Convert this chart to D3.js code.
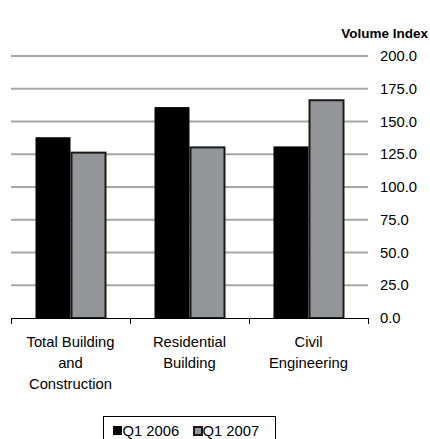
<!DOCTYPE html>
<html>
<head>
<meta charset="utf-8">
<script src="https://cdn.jsdelivr.net/npm/d3@7"></script>
<style>
  body { margin: 0; background: #fff; }
  text { font-family: "Liberation Sans", Arial, sans-serif; }
</style>
</head>
<body>
<svg width="430" height="439"></svg>
<script>
var categories = [["Total Building", "and", "Construction"], ["Residential", "Building"], ["Civil", "Engineering"]];
var seriesNames = ["Q1 2006", "Q1 2007"];
var q12006 = [138, 161, 131];
var q12007 = [127, 131, 167];
var yTicks = [0, 25, 50, 75, 100, 125, 150, 175, 200];

var svg = d3.select("svg");
var plotLeft = 11, plotRight = 368, plotTop = 56, plotBottom = 318;

var x = d3.scaleBand()
    .domain(d3.range(categories.length))
    .range([plotLeft, plotRight]);

var inner = d3.scaleBand()
    .domain([0, 1])
    .range([0, x.bandwidth()])
    .paddingOuter(0.7);

var y = d3.scaleLinear()
    .domain([0, 200])
    .range([plotBottom, plotTop]);

// grid lines
svg.append("g")
  .selectAll("line")
  .data(yTicks.filter(function(d){ return d > 0 }))
  .enter().append("line")
    .attr("x1", plotLeft)
    .attr("x2", plotRight)
    .attr("y1", function(d){ return y(d) })
    .attr("y2", function(d){ return y(d) })
    .attr("stroke", "#a6a6a6")
    .attr("stroke-width", 2)

// y labels on the right
svg.append("g")
  .selectAll("text")
  .data(yTicks)
  .enter().append("text")
    .attr("x", 380)
    .attr("y", function(d){ return y(d) })
    .attr("dy", "0.35em")
    .attr("font-size", 14.8)
    .attr("fill", "#000")
    .text(function(d){ return d3.format(".1f")(d) })

svg.append("text")
    .attr("x", 428)
    .attr("y", 38)
    .attr("text-anchor", "end")
    .attr("font-size", 13.5)
    .attr("font-weight", "bold")
    .text("Volume Index")

var series = [q12006, q12007];
var fills = ["#000000", "#939598"];

series.forEach(function(vals, s) {
  svg.append("g")
    .selectAll("rect")
    .data(vals)
    .enter().append("rect")
      .attr("x", function(d, i){ return x(i) + inner(s) + (s ? 1 : 0) })
      .attr("y", function(d){ return y(d) + (s ? 1 : 0) })
      .attr("width", inner.bandwidth() - (s ? 1 : 0))
      .attr("height", function(d){ return plotBottom - y(d) - (s ? 1 : 0) })
      .attr("fill", fills[s])
      .attr("stroke", s ? "#1a1a1a" : "none")
      .attr("stroke-width", 2)
});

// category axis
svg.append("line")
    .attr("x1", plotLeft).attr("x2", plotRight)
    .attr("y1", plotBottom + 0.5).attr("y2", plotBottom + 0.5)
    .attr("stroke", "#000").attr("stroke-width", 1)

svg.append("g")
  .selectAll("line")
  .data(d3.range(categories.length + 1))
  .enter().append("line")
    .attr("x1", function(d){ return Math.round(plotLeft + d * x.step()) + 0.5 })
    .attr("x2", function(d){ return Math.round(plotLeft + d * x.step()) + 0.5 })
    .attr("y1", plotBottom)
    .attr("y2", plotBottom + 6)
    .attr("stroke", "#000")

var labels = svg.append("g")
  .selectAll("text")
  .data(categories)
  .enter().append("text")
    .attr("x", function(d, i){ return x(i) + x.bandwidth() / 2 })
    .attr("y", 347)
    .attr("text-anchor", "middle")
    .attr("font-size", 14.8)

labels.selectAll("tspan")
  .data(function(d){ return d })
  .enter().append("tspan")
    .attr("x", function(){ return d3.select(this.parentNode).attr("x") })
    .attr("dy", function(d, i){ return i ? 21 : 0 })
    .text(function(d){ return d })

// legend
var lg = svg.append("g")
lg.append("rect")
    .attr("x", 103.5).attr("y", 416.5)
    .attr("width", 172).attr("height", 30)
    .attr("fill", "#fff").attr("stroke", "#000")

var lx = [113, 193];
seriesNames.forEach(function(name, s) {
  lg.append("rect")
    .attr("x", lx[s] + (s ? 1 : 0)).attr("y", 426 + (s ? 1 : 0))
    .attr("width", 9 - (s ? 1 : 0)).attr("height", 9 - (s ? 1 : 0))
    .attr("fill", fills[s])
    .attr("stroke", s ? "#1a1a1a" : "none")
    .attr("stroke-width", 2)
  lg.append("text")
    .attr("x", lx[s] + 9.5).attr("y", 436)
    .attr("font-size", 14.8)
    .text(name)
});
</script>
</body>
</html>
